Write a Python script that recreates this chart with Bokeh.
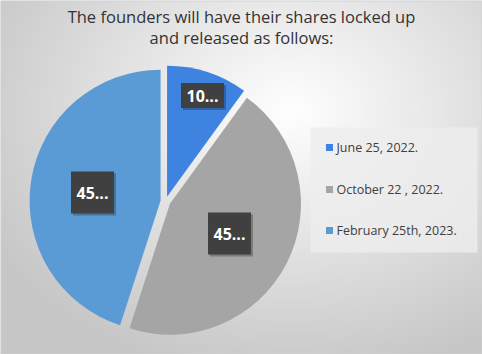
import numpy as np
from bokeh.plotting import figure
from bokeh.models import ColumnDataSource
from bokeh.core.properties import value
from bokeh.embed import file_html
from bokeh.resources import INLINE

# ---- data ----
categories = ["June 25, 2022.", "October 22 , 2022.", "February 25th, 2023."]
shares = [10, 45, 45]
labels = ["10...", "45...", "45..."]
colors = ["#3f83e0", "#a5a5a5", "#5b9bd5"]
title_lines = ["The founders will have their shares locked up", "and released as follows:"]

W, H = 482, 354
FONT = "Open Sans"

p = figure(width=W, height=H, x_range=(0, W), y_range=(0, H),
           output_backend="svg", toolbar_location=None, min_border=0)
p.axis.visible = False
p.grid.visible = False
p.outline_line_color = None
p.background_fill_color = "#e6e6e6"
p.border_fill_color = "#e6e6e6"

def sy(y):
    return H - y

# background radial gradient (style only)
gx, gy = np.meshgrid(np.arange(W), np.arange(H))
d = np.sqrt(((gx - 290) / 320.0) ** 2 + ((gy - sy(110)) / 250.0) ** 2)
shade = np.clip(255 - 52 * d, 198, 255).astype(np.uint32)
img = (255 << 24) | (shade << 16) | (shade << 8) | shade
p.image_rgba(image=[img], x=0, y=0, dw=W, dh=H)
# border
p.rect(x=W / 2, y=H / 2, width=W - 1, height=H - 1, fill_color=None,
       line_color="#d0d0d0", line_width=1)

# ---- pie ----
cx, cy, R, explode = 165, sy(201), 131, 5
total = float(sum(shares))
cum = np.cumsum([0] + shares) / total
starts = np.pi / 2 - cum[:-1] * 2 * np.pi
ends = np.pi / 2 - cum[1:] * 2 * np.pi
mids = (starts + ends) / 2
xs = cx + explode * np.cos(mids)
ys = cy + explode * np.sin(mids)
src = ColumnDataSource(dict(x=xs, y=ys, start=starts, end=ends, color=colors, cat=categories))
p.wedge(x="x", y="y", radius=R, start_angle="start", end_angle="end",
        direction="clock", fill_color="color", line_color=None, source=src)

# ---- data labels ----
lab_x = [202, 229, 92]
lab_y = [sy(95), sy(233), sy(192)]
lab_h = [25, 42, 42]
# order: June, October, February
lsrc = ColumnDataSource(dict(x=lab_x, y=lab_y, h=lab_h, t=labels))
p.rect(x=[v + 2 for v in lab_x], y=[v - 2 for v in lab_y], width=43, height=lab_h,
       fill_color="#000000", fill_alpha=0.25, line_color=None)
p.rect(x="x", y="y", width=43, height="h", fill_color="#404040", line_color=None, source=lsrc)
p.text(x="x", y="y", text="t", text_color="white", text_font=value(FONT),
       text_font_style="bold", text_font_size="16px", text_align="center",
       text_baseline="middle", source=lsrc)

# ---- legend ----
p.quad(left=310, right=477, top=sy(127), bottom=sy(252), fill_color="#eeeeee",
       fill_alpha=0.8, line_color=None)
leg_y = [sy(147), sy(189), sy(230)]
p.scatter(x=[329] * 3, y=leg_y, marker="square", size=7, fill_color=colors, line_color=None)
p.text(x=[336] * 3, y=leg_y, text=categories, text_color="#404040",
       text_font=value(FONT), text_font_size="12.5px", text_baseline="middle")

# ---- title ----
p.text(x=[241, 241], y=[sy(16), sy(37)], text=title_lines, text_color="#333333",
       text_font=value(FONT), text_font_size="16.5px", text_align="center",
       text_baseline="middle")

open("out.html", "w").write(file_html(p, INLINE))
